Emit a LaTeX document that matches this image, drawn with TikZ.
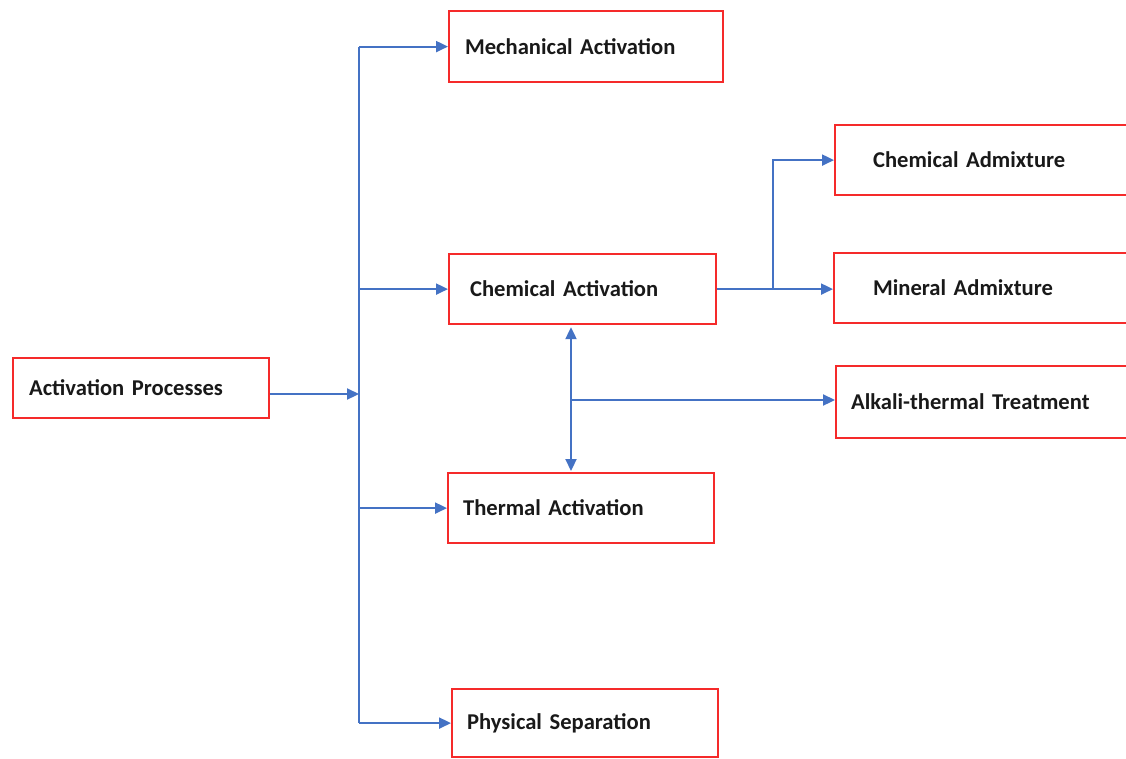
\documentclass[tikz,border=0pt]{standalone}
\usepackage{fontspec}
\setmainfont{Carlito}
\usetikzlibrary{arrows.meta}
\definecolor{boxred}{HTML}{F52A2A}
\definecolor{linkblue}{HTML}{4472C4}
\tikzset{
  procbox/.style={draw=boxred, line width=2.2pt, anchor=north west, align=left,
    font=\fontsize{22.6}{26}\selectfont\bfseries, text=black!90, inner ysep=0pt},
  link/.style={draw=linkblue, line width=2.2pt,
    -{Triangle[length=12pt,width=11pt]}},
  dlink/.style={draw=linkblue, line width=2.2pt,
    {Triangle[length=12pt,width=11pt]}-{Triangle[length=12pt,width=11pt]}},
  plain/.style={draw=linkblue, line width=2.2pt}
}
\begin{document}
\begin{tikzpicture}[x=1pt,y=-1pt]
\useasboundingbox (0,0) rectangle (1126,758);
\clip (0,0) rectangle (1126,758);

% boxes: position (top-left), width, height, left padding
\node[procbox, minimum height=60pt, inner xsep=16pt, text width=224pt] (ap) at (12,357) {Activation Processes};
\node[procbox, minimum height=71pt, inner xsep=16pt, text width=242pt] (mech) at (448,10) {Mechanical Activation};
\node[procbox, minimum height=70pt, inner xsep=21pt, text width=225pt] (chem) at (448,253) {Chemical Activation};
\node[procbox, minimum height=70pt, inner xsep=15pt, text width=236pt] (therm) at (447,472) {Thermal Activation};
\node[procbox, minimum height=68pt, inner xsep=15pt, text width=236pt] (phys) at (451,688) {Physical Separation};
\node[procbox, minimum height=70pt, inner xsep=38pt, text width=244pt] (cadm) at (834,124) {Chemical Admixture};
\node[procbox, minimum height=70pt, inner xsep=39pt, text width=242pt] (madm) at (833,252) {Mineral Admixture};
\node[procbox, minimum height=72pt, inner xsep=15pt, text width=290pt] (alk) at (835,365) {Alkali-thermal Treatment};

% junction points
\coordinate (trunk) at (359,0);
\coordinate (split) at (773,0);
\coordinate (link) at (571,0);
\coordinate (aprow) at (0,394);
\coordinate (alkrow) at (0,400);

% main trunk and its branches
\draw[plain] (mech.west -| trunk) -- (phys.west -| trunk);
\draw[link] (ap.east |- aprow) -- (trunk |- aprow);
\draw[link] (mech.west -| trunk) -- (mech.west);
\draw[link] (chem.west -| trunk) -- (chem.west);
\draw[link] (therm.west -| trunk) -- (therm.west);
\draw[link] (phys.west -| trunk) -- (phys.west);

% chemical activation to admixtures
\draw[link] (chem.east) -- (madm.west |- chem.east);
\draw[link] (split |- chem.east) -- (split |- cadm.west) -- (cadm.west);

% chemical <-> thermal, with alkali-thermal branch
\draw[dlink, shorten <=2pt, shorten >=1pt] (chem.south -| link) -- (therm.north -| link);
\draw[link] (link |- alkrow) -- (alk.west |- alkrow);
\end{tikzpicture}
\end{document}
